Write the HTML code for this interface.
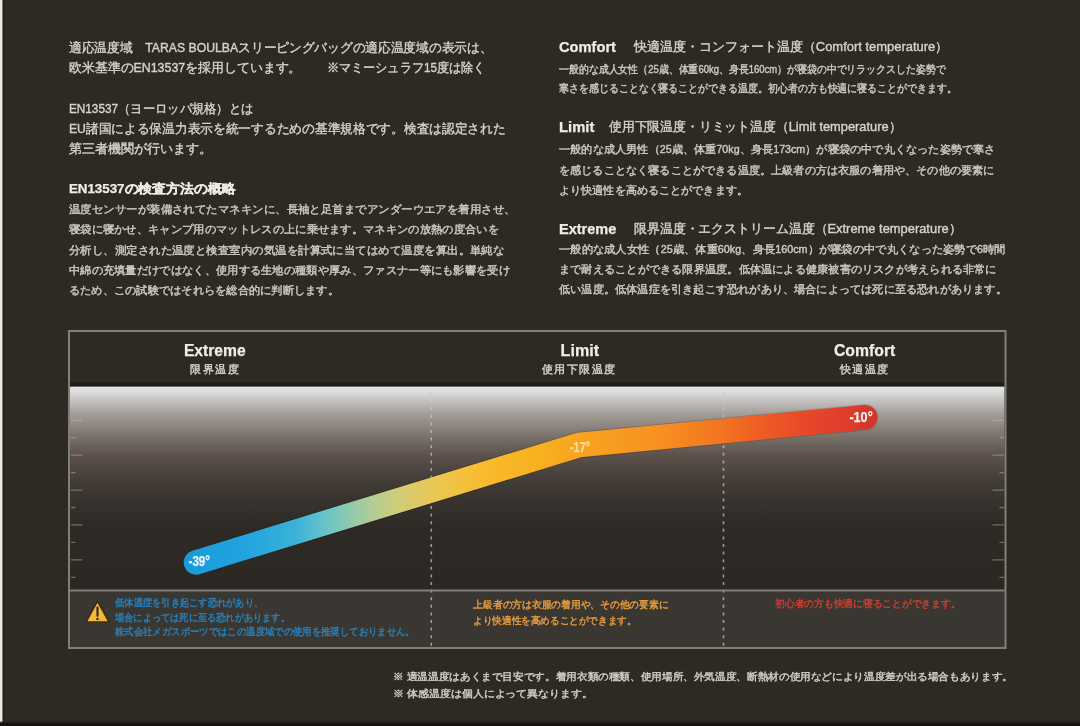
<!DOCTYPE html>
<html lang="ja">
<head>
<meta charset="utf-8">
<title>EN13537 Temperature Rating</title>
<style>
html,body{margin:0;padding:0;background:#2d2923;}
body{width:1080px;height:726px;overflow:hidden;font-family:"Liberation Sans",sans-serif;}
svg{display:block;}
</style>
</head>
<body>
<svg width="1080" height="726" viewBox="0 0 1080 726" font-family="'Liberation Sans', sans-serif">
<defs>
<linearGradient id="fade" x1="0" y1="386" x2="0" y2="590" gradientUnits="userSpaceOnUse">
<stop offset="0" stop-color="#e3e3e5"/>
<stop offset="0.03" stop-color="#dcdcde"/>
<stop offset="0.072" stop-color="#c4c2c0"/>
<stop offset="0.139" stop-color="#a39b97"/>
<stop offset="0.206" stop-color="#8a827a"/>
<stop offset="0.275" stop-color="#6f6860"/>
<stop offset="0.342" stop-color="#5c514a"/>
<stop offset="0.409" stop-color="#4e4541"/>
<stop offset="0.46" stop-color="#433c38"/>
<stop offset="0.56" stop-color="#38332e"/>
<stop offset="0.68" stop-color="#2e2a25"/>
<stop offset="1" stop-color="#2b2722"/>
</linearGradient>
<linearGradient id="band" x1="184" y1="0" x2="877" y2="0" gradientUnits="userSpaceOnUse">
<stop offset="0" stop-color="#1a98d8"/>
<stop offset="0.019" stop-color="#1c9cdc"/>
<stop offset="0.091" stop-color="#22a4e0"/>
<stop offset="0.163" stop-color="#3cb2d8"/>
<stop offset="0.211" stop-color="#70c6c4"/>
<stop offset="0.258" stop-color="#a4cc9e"/>
<stop offset="0.307" stop-color="#d0cc7a"/>
<stop offset="0.355" stop-color="#e8c858"/>
<stop offset="0.403" stop-color="#f4c03c"/>
<stop offset="0.452" stop-color="#f8b828"/>
<stop offset="0.514" stop-color="#f8b020"/>
<stop offset="0.571" stop-color="#f8a420"/>
<stop offset="0.687" stop-color="#f79020"/>
<stop offset="0.78" stop-color="#f37222"/>
<stop offset="0.84" stop-color="#ee5a24"/>
<stop offset="0.905" stop-color="#e8452a"/>
<stop offset="0.96" stop-color="#dc3c2a"/>
<stop offset="1" stop-color="#d0352a"/>
</linearGradient>
<filter id="soft" x="0" y="0" width="1080" height="726" filterUnits="userSpaceOnUse"><feGaussianBlur stdDeviation="0.4"/></filter>
</defs>
<rect width="1080" height="726" fill="#2d2923"/>
<!-- chart frame -->
<rect x="70" y="386.4" width="934.5" height="203.6" fill="url(#fade)"/>
<rect x="70" y="382.5" width="934.5" height="3.9" fill="#1f1c18"/>
<rect x="70" y="590" width="934.5" height="57" fill="#3a3733"/>
<g stroke="#c9c5bf" stroke-opacity="0.42" stroke-width="1.3" fill="none">
<path d="M71 420.3h11.5M1004 420.3h-11.5"/>
<path d="M71 437.7h4.5M1004 437.7h-4.5"/>
<path d="M71 455.2h11.5M1004 455.2h-11.5"/>
<path d="M71 472.6h4.5M1004 472.6h-4.5"/>
<path d="M71 490.1h11.5M1004 490.1h-11.5"/>
<path d="M71 507.5h4.5M1004 507.5h-4.5"/>
<path d="M71 524.9h11.5M1004 524.9h-11.5"/>
<path d="M71 542.4h4.5M1004 542.4h-4.5"/>
<path d="M71 559.8h11.5M1004 559.8h-11.5"/>
<path d="M71 577.3h4.5M1004 577.3h-4.5"/>
</g>
<g stroke="#cfcbc5" stroke-opacity="0.7" stroke-width="1.6" stroke-dasharray="3 4.6" fill="none">
<path d="M431.3 392V646M723.5 392V646"/>
</g>
<polyline points="196,562.4 579,445 865,417.3" fill="none" stroke="#14100c" stroke-opacity="0.18" stroke-width="26.4" stroke-linecap="round" stroke-linejoin="round"/>
<polyline points="196,562.4 579,445 865,417.3" fill="none" stroke="url(#band)" stroke-width="24.6" stroke-linecap="round" stroke-linejoin="round"/>
<path d="M70 590.5H1004.5" stroke="#827e78" stroke-width="2"/>
<rect x="69" y="331" width="936.5" height="317" fill="none" stroke="#827e78" stroke-width="2"/>
<!-- warning icon -->
<path d="M97.5 601.2L109 622H86Z" fill="#f3b73c" stroke="#3a2c12" stroke-width="1.6" stroke-linejoin="round"/>
<path d="M97.5 607.5V615.8" stroke="#3a2c12" stroke-width="2.2" stroke-linecap="round"/>
<circle cx="97.5" cy="619" r="1.25" fill="#3a2c12"/>
<!-- text -->
<g filter="url(#soft)">
<text x="68.9" y="52.0" font-size="12.5" fill="#d6d2ca" stroke="#d6d2ca" stroke-width="0.38" textLength="423.6" lengthAdjust="spacingAndGlyphs">適応温度域　TARAS BOULBAスリーピングバッグの適応温度域の表示は、</text>
<text x="68.9" y="71.5" font-size="12.5" fill="#d6d2ca" stroke="#d6d2ca" stroke-width="0.38" textLength="232.5" lengthAdjust="spacingAndGlyphs">欧米基準のEN13537を採用しています。</text>
<text x="326.7" y="71.5" font-size="12.5" fill="#d6d2ca" stroke="#d6d2ca" stroke-width="0.38" textLength="158.9" lengthAdjust="spacingAndGlyphs">※マミーシュラフ15度は除く</text>
<text x="68.9" y="113.0" font-size="12.5" fill="#d6d2ca" stroke="#d6d2ca" stroke-width="0.38" textLength="184.4" lengthAdjust="spacingAndGlyphs">EN13537（ヨーロッパ規格）とは</text>
<text x="68.9" y="132.7" font-size="12.5" fill="#d6d2ca" stroke="#d6d2ca" stroke-width="0.38" textLength="436.7" lengthAdjust="spacingAndGlyphs">EU諸国による保温力表示を統一するための基準規格です。検査は認定された</text>
<text x="68.9" y="152.7" font-size="12.5" fill="#d6d2ca" stroke="#d6d2ca" stroke-width="0.38" textLength="143.6" lengthAdjust="spacingAndGlyphs">第三者機関が行います。</text>
<text x="68.9" y="192.7" font-size="12.5" fill="#efece6" font-weight="bold" stroke="#efece6" stroke-width="0.25" textLength="166.7" lengthAdjust="spacingAndGlyphs">EN13537の検査方法の概略</text>
<text x="68.9" y="213.2" font-size="10.5" fill="#ccc8c0" stroke="#ccc8c0" stroke-width="0.42" textLength="446.8" lengthAdjust="spacingAndGlyphs">温度センサーが装備されてたマネキンに、長袖と足首までアンダーウエアを着用させ、</text>
<text x="68.9" y="233.2" font-size="10.5" fill="#ccc8c0" stroke="#ccc8c0" stroke-width="0.42" textLength="430.0" lengthAdjust="spacingAndGlyphs">寝袋に寝かせ、キャンプ用のマットレスの上に乗せます。マネキンの放熱の度合いを</text>
<text x="68.9" y="253.7" font-size="10.5" fill="#ccc8c0" stroke="#ccc8c0" stroke-width="0.42" textLength="435.5" lengthAdjust="spacingAndGlyphs">分析し、測定された温度と検査室内の気温を計算式に当てはめて温度を算出。単純な</text>
<text x="68.9" y="274.1" font-size="10.5" fill="#ccc8c0" stroke="#ccc8c0" stroke-width="0.42" textLength="441.1" lengthAdjust="spacingAndGlyphs">中綿の充填量だけではなく、使用する生地の種類や厚み、ファスナー等にも影響を受け</text>
<text x="68.9" y="294.1" font-size="10.5" fill="#ccc8c0" stroke="#ccc8c0" stroke-width="0.42" textLength="270.1" lengthAdjust="spacingAndGlyphs">るため、この試験ではそれらを総合的に判断します。</text>
<text x="559.0" y="52.1" font-size="14.5" fill="#efece6" font-weight="bold" stroke="#efece6" stroke-width="0.25" textLength="57.0" lengthAdjust="spacingAndGlyphs">Comfort</text>
<text x="634.4" y="51.4" font-size="13" fill="#d6d2ca" stroke="#d6d2ca" stroke-width="0.38" textLength="313.9" lengthAdjust="spacingAndGlyphs">快適温度・コンフォート温度（Comfort temperature）</text>
<text x="559.0" y="72.7" font-size="10.5" fill="#ccc8c0" stroke="#ccc8c0" stroke-width="0.42" textLength="386.6" lengthAdjust="spacingAndGlyphs">一般的な成人女性（25歳、体重60kg、身長160cm）が寝袋の中でリラックスした姿勢で</text>
<text x="559.0" y="92.2" font-size="10.5" fill="#ccc8c0" stroke="#ccc8c0" stroke-width="0.42" textLength="397.8" lengthAdjust="spacingAndGlyphs">寒さを感じることなく寝ることができる温度。初心者の方も快適に寝ることができます。</text>
<text x="559.0" y="132.1" font-size="14.5" fill="#efece6" font-weight="bold" stroke="#efece6" stroke-width="0.25" textLength="35.4" lengthAdjust="spacingAndGlyphs">Limit</text>
<text x="608.9" y="131.4" font-size="13" fill="#d6d2ca" stroke="#d6d2ca" stroke-width="0.38" textLength="292.6" lengthAdjust="spacingAndGlyphs">使用下限温度・リミット温度（Limit temperature）</text>
<text x="559.0" y="153.2" font-size="10.5" fill="#ccc8c0" stroke="#ccc8c0" stroke-width="0.42" textLength="436.6" lengthAdjust="spacingAndGlyphs">一般的な成人男性（25歳、体重70kg、身長173cm）が寝袋の中で丸くなった姿勢で寒さ</text>
<text x="559.0" y="174.2" font-size="10.5" fill="#ccc8c0" stroke="#ccc8c0" stroke-width="0.42" textLength="435.4" lengthAdjust="spacingAndGlyphs">を感じることなく寝ることができる温度。上級者の方は衣服の着用や、その他の要素に</text>
<text x="559.0" y="194.2" font-size="10.5" fill="#ccc8c0" stroke="#ccc8c0" stroke-width="0.42" textLength="188.9" lengthAdjust="spacingAndGlyphs">より快適性を高めることができます。</text>
<text x="559.0" y="233.9" font-size="14.5" fill="#efece6" font-weight="bold" stroke="#efece6" stroke-width="0.25" textLength="57.2" lengthAdjust="spacingAndGlyphs">Extreme</text>
<text x="634.0" y="233.2" font-size="13" fill="#d6d2ca" stroke="#d6d2ca" stroke-width="0.38" textLength="327.5" lengthAdjust="spacingAndGlyphs">限界温度・エクストリーム温度（Extreme temperature）</text>
<text x="559.0" y="253.2" font-size="10.5" fill="#ccc8c0" stroke="#ccc8c0" stroke-width="0.42" textLength="446.6" lengthAdjust="spacingAndGlyphs">一般的な成人女性（25歳、体重60kg、身長160cm）が寝袋の中で丸くなった姿勢で6時間</text>
<text x="559.0" y="273.1" font-size="10.5" fill="#ccc8c0" stroke="#ccc8c0" stroke-width="0.42" textLength="437.7" lengthAdjust="spacingAndGlyphs">まで耐えることができる限界温度。低体温による健康被害のリスクが考えられる非常に</text>
<text x="559.0" y="293.1" font-size="10.5" fill="#ccc8c0" stroke="#ccc8c0" stroke-width="0.42" textLength="447.8" lengthAdjust="spacingAndGlyphs">低い温度。低体温症を引き起こす恐れがあり、場合によっては死に至る恐れがあります。</text>
<text x="183.9" y="356.3" font-size="17" fill="#f0ede8" font-weight="bold" stroke="#f0ede8" stroke-width="0.25" textLength="61.7" lengthAdjust="spacingAndGlyphs">Extreme</text>
<text x="190.0" y="373.1" font-size="10.5" fill="#d6d2ca" stroke="#d6d2ca" stroke-width="0.42" textLength="48.9" lengthAdjust="spacing">限界温度</text>
<text x="560.6" y="356.3" font-size="17" fill="#f0ede8" font-weight="bold" stroke="#f0ede8" stroke-width="0.25" textLength="38.5" lengthAdjust="spacingAndGlyphs">Limit</text>
<text x="541.7" y="373.1" font-size="10.5" fill="#d6d2ca" stroke="#d6d2ca" stroke-width="0.42" textLength="73.3" lengthAdjust="spacing">使用下限温度</text>
<text x="833.9" y="356.3" font-size="17" fill="#f0ede8" font-weight="bold" stroke="#f0ede8" stroke-width="0.25" textLength="61.4" lengthAdjust="spacingAndGlyphs">Comfort</text>
<text x="840.0" y="373.1" font-size="10.5" fill="#d6d2ca" stroke="#d6d2ca" stroke-width="0.42" textLength="47.8" lengthAdjust="spacing">快適温度</text>
<text x="115.0" y="606.2" font-size="10" fill="#2a7fb6" stroke="#2a7fb6" stroke-width="0.42" textLength="148.2" lengthAdjust="spacingAndGlyphs">低体温症を引き起こす恐れがあり、</text>
<text x="115.0" y="620.6" font-size="10" fill="#2a7fb6" stroke="#2a7fb6" stroke-width="0.42" textLength="174.8" lengthAdjust="spacingAndGlyphs">場合によっては死に至る恐れがあります。</text>
<text x="115.0" y="635.3" font-size="10" fill="#2a7fb6" stroke="#2a7fb6" stroke-width="0.42" textLength="299.8" lengthAdjust="spacingAndGlyphs">株式会社メガスポーツではこの温度域での使用を推奨しておりません。</text>
<text x="473.3" y="608.0" font-size="10" fill="#e29a3c" stroke="#e29a3c" stroke-width="0.42" textLength="195.0" lengthAdjust="spacingAndGlyphs">上級者の方は衣服の着用や、その他の要素に</text>
<text x="473.3" y="623.7" font-size="10" fill="#e29a3c" stroke="#e29a3c" stroke-width="0.42" textLength="163.2" lengthAdjust="spacingAndGlyphs">より快適性を高めることができます。</text>
<text x="775.0" y="607.0" font-size="10" fill="#cf3a2e" stroke="#cf3a2e" stroke-width="0.42" textLength="185.5" lengthAdjust="spacingAndGlyphs">初心者の方も快適に寝ることができます。</text>
<text x="393.3" y="679.6" font-size="9.5" fill="#d0ccc4" stroke="#d0ccc4" stroke-width="0.42" textLength="619.6" lengthAdjust="spacingAndGlyphs">※ 適温温度はあくまで目安です。着用衣類の種類、使用場所、外気温度、断熱材の使用などにより温度差が出る場合もあります。</text>
<text x="393.3" y="696.6" font-size="9.5" fill="#d0ccc4" stroke="#d0ccc4" stroke-width="0.42" textLength="199.6" lengthAdjust="spacingAndGlyphs">※ 体感温度は個人によって異なります。</text>
<text x="188.5" y="566.0" font-size="14.5" fill="#eaf6fc" font-weight="bold" stroke="#eaf6fc" stroke-width="0.25" textLength="21.5" lengthAdjust="spacingAndGlyphs">-39°</text>
<text x="570.0" y="452.0" font-size="14.5" fill="#fdeeb0" font-weight="bold" stroke="#fdeeb0" stroke-width="0.25" opacity="0.8" textLength="20.0" lengthAdjust="spacingAndGlyphs">-17°</text>
<text x="849.4" y="422.3" font-size="15" fill="#fdf0ea" font-weight="bold" stroke="#fdf0ea" stroke-width="0.25" textLength="23.3" lengthAdjust="spacingAndGlyphs">-10°</text>
</g>
<!-- edges -->
<rect x="0" y="0" width="2.2" height="726" fill="#ebe7df"/>
<rect x="2.2" y="0" width="1" height="726" fill="#8a867f"/>
<rect x="3.2" y="0" width="1.2" height="726" fill="#1f1c18"/>
<rect x="0" y="721.6" width="1080" height="1.2" fill="#25221d"/>
<rect x="0" y="722.8" width="1080" height="3.2" fill="#151310"/>
</svg>
</body>
</html>
